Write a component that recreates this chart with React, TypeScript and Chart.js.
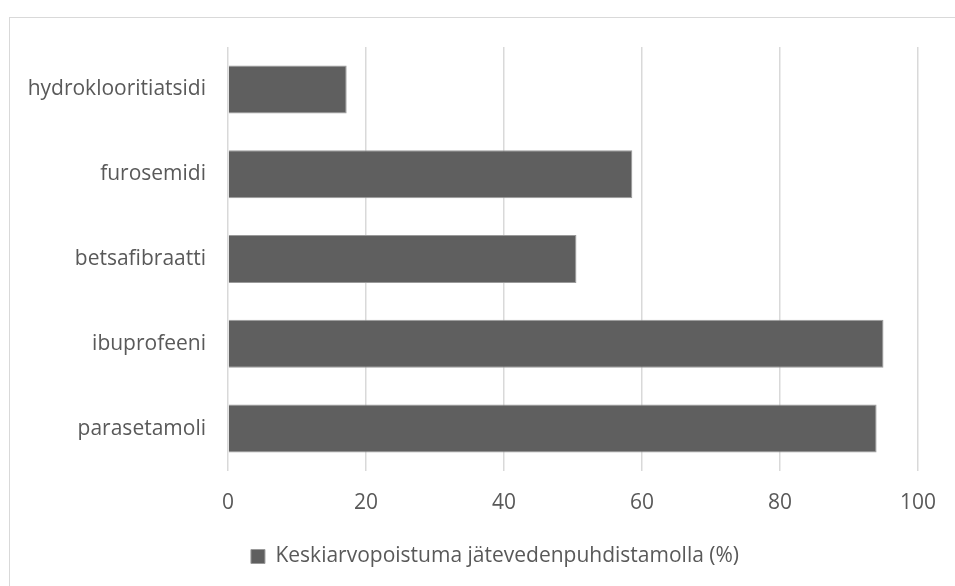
import React, { useEffect, useRef } from "react";
import { Chart, registerables } from "chart.js";

Chart.register(...registerables);

const categories = ["hydroklooritiatsidi", "furosemidi", "betsafibraatti", "ibuprofeeni", "parasetamoli"];
const seriesLabel = "Keskiarvopoistuma jätevedenpuhdistamolla (%)";
const removal = [17.2, 58.6, 50.5, 95.0, 94.0];
const xTicks = [0, 20, 40, 60, 80, 100];

const FONT = "'Open Sans', sans-serif";
const TEXT = "#595959";
const GRID = "#d9d9d9";
const BAR = "#5f5f5f";

const shiftLegend = {
  id: "shiftLegend",
  afterLayout(chart: any) {
    const lg = chart.legend;
    if (lg) {
      lg.left += 34;
      lg.right += 34;
    }
  },
};

export default function App() {
  const ref = useRef<HTMLCanvasElement | null>(null);

  useEffect(() => {
    if (!ref.current) return;
    const chart = new Chart(ref.current, {
      type: "bar",
      data: {
        labels: categories,
        datasets: [
          {
            label: seriesLabel,
            data: removal,
            backgroundColor: BAR,
            borderColor: "#9a9a9a",
            borderWidth: 1,
            categoryPercentage: 1,
            barPercentage: 0.566,
          },
        ],
      },
      plugins: [shiftLegend],
      options: {
        indexAxis: "y",
        animation: false,
        responsive: true,
        maintainAspectRatio: false,
        layout: { padding: { top: 47, right: 33, bottom: 9, left: 0 } },
        scales: {
          x: {
            min: 0,
            max: 100,
            afterBuildTicks: (scale: any) => {
              scale.ticks = xTicks.map((v) => ({ value: v }));
            },
            afterFit: (scale: any) => {
              scale.height = 43;
            },
            grid: { color: GRID, lineWidth: 1.5, drawTicks: false },
            border: { display: false },
            ticks: { color: TEXT, font: { family: FONT, size: 21 }, padding: 19 },
          },
          y: {
            afterFit: (scale: any) => {
              scale.width = 228;
            },
            grid: { display: false, drawTicks: false },
            border: { display: false },
            ticks: { color: TEXT, font: { family: FONT, size: 21 }, padding: 22 },
          },
        },
        plugins: {
          legend: {
            position: "bottom",
            labels: {
              color: TEXT,
              font: { family: FONT, size: 21 },
              boxWidth: 14,
              boxHeight: 14,
              padding: 32,
            },
          },
          tooltip: { enabled: false },
        },
      },
    });
    return () => chart.destroy();
  }, []);

  return (
    <div
      style={{
        position: "fixed",
        left: 0,
        top: 0,
        width: 955,
        height: 586,
        overflow: "hidden",
        background: "#ffffff",
      }}
    >
      <div
        style={{
          position: "absolute",
          left: 9,
          top: 17,
          width: 1000,
          height: 700,
          border: "1px solid #d9d9d9",
          boxSizing: "border-box",
          pointerEvents: "none",
        }}
      />
      <div style={{ position: "absolute", left: 0, top: 0, width: 955, height: 586 }}>
        <canvas ref={ref} />
      </div>
    </div>
  );
}
